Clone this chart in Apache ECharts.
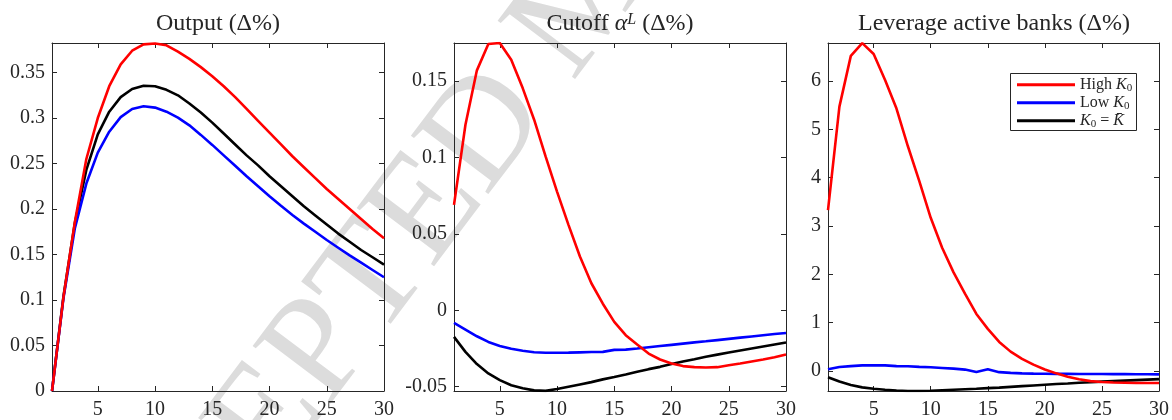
<!DOCTYPE html>
<html>
<head>
<meta charset="utf-8">
<script src="https://cdn.jsdelivr.net/npm/echarts@6/dist/echarts.min.js"></script>
<style>
    html, body {margin: 0; padding: 0; background: #fff;}
    #chart {width: 1172px; height: 420px;}
</style>
</head>
<body>
<div id="chart"></div>
<script>
const periods = [1, 2, 3, 4, 5, 6, 7, 8, 9, 10, 11, 12, 13, 14, 15,
    16, 17, 18, 19, 20, 21, 22, 23, 24, 25, 26, 27, 28, 29, 30];
const periodTicks = [5, 10, 15, 20, 25, 30];

// Output
const outputHigh = [0, 0.103, 0.186, 0.255, 0.300, 0.335, 0.359, 0.374, 0.381, 0.382,
    0.380, 0.373, 0.365, 0.356, 0.346, 0.335, 0.323, 0.310, 0.297, 0.284,
    0.271, 0.258, 0.246, 0.234, 0.222, 0.211, 0.200, 0.189, 0.178, 0.168];
const outputLow = [0, 0.102, 0.179, 0.228, 0.262, 0.285, 0.301, 0.310, 0.313, 0.3115,
    0.307, 0.3005, 0.292, 0.2815, 0.2705, 0.259, 0.2475, 0.236, 0.225, 0.214,
    0.2035, 0.1935, 0.184, 0.175, 0.166, 0.1575, 0.149, 0.141, 0.133, 0.125];
const outputBar = [0, 0.104, 0.185, 0.243, 0.282, 0.307, 0.323, 0.332, 0.3355, 0.335,
    0.331, 0.325, 0.316, 0.306, 0.295, 0.283, 0.271, 0.259, 0.248, 0.236,
    0.225, 0.214, 0.203, 0.193, 0.183, 0.173, 0.164, 0.155, 0.147, 0.139];
const outputTicks = [0, 0.05, 0.1, 0.15, 0.2, 0.25, 0.3, 0.35];

// Cutoff alpha^L
const cutoffHigh = [0.069, 0.1214, 0.157, 0.1742, 0.1749, 0.164, 0.1454, 0.1247, 0.1007, 0.0777,
    0.0559, 0.0352, 0.0177, 0.0043, -0.0076, -0.0163, -0.0224, -0.0283, -0.0322, -0.0348,
    -0.0365, -0.0372, -0.0374, -0.0372, -0.0359, -0.0348, -0.0335, -0.0322, -0.0307, -0.0289];
const cutoffLow = [-0.0083, -0.0126, -0.017, -0.0207, -0.0233, -0.0252, -0.0265, -0.0274, -0.0278, -0.0278,
    -0.0277, -0.0275, -0.0273, -0.0272, -0.0259, -0.0257, -0.025, -0.0242, -0.0234, -0.0226,
    -0.0218, -0.021, -0.0203, -0.0195, -0.0187, -0.0179, -0.0171, -0.0163, -0.0155, -0.0148];
const cutoffBar = [-0.0174, -0.0272, -0.0352, -0.0413, -0.0457, -0.049, -0.051, -0.0524, -0.0527, -0.0515,
    -0.05, -0.0485, -0.047, -0.0452, -0.0437, -0.042, -0.0402, -0.0385, -0.037, -0.0352,
    -0.0335, -0.032, -0.0304, -0.029, -0.0276, -0.0263, -0.025, -0.0237, -0.0224, -0.0211];
const cutoffTicks = [-0.05, 0, 0.05, 0.1, 0.15];

// Leverage active banks
const leverageHigh = [3.33, 5.47, 6.52, 6.785, 6.56, 6.02, 5.43, 4.65, 3.93, 3.17,
    2.55, 2.04, 1.6, 1.18, 0.87, 0.6, 0.4, 0.25, 0.13, 0.03,
    -0.05, -0.12, -0.17, -0.21, -0.23, -0.24, -0.245, -0.25, -0.25, -0.25];
const leverageLow = [0.034, 0.083, 0.10, 0.115, 0.117, 0.115, 0.10, 0.097, 0.085, 0.075,
    0.062, 0.048, 0.028, -0.02, 0.034, -0.025, -0.04, -0.05, -0.055, -0.058,
    -0.06, -0.061, -0.062, -0.063, -0.064, -0.065, -0.066, -0.067, -0.068, -0.07];
const leverageBar = [-0.13, -0.22, -0.29, -0.34, -0.37, -0.39, -0.405, -0.415, -0.415, -0.41,
    -0.40, -0.39, -0.38, -0.37, -0.355, -0.345, -0.33, -0.315, -0.30, -0.285,
    -0.27, -0.26, -0.245, -0.235, -0.22, -0.21, -0.20, -0.19, -0.18, -0.17];
const leverageTicks = [0, 1, 2, 3, 4, 5, 6];

const seriesNames = ['High K0', 'Low K0', 'K0 = Kbar'];
const seriesColors = ['#ff0000', '#0000ff', '#000000'];

const AXIS = '#262626';
const FONT = '"Liberation Serif", "Times New Roman", serif';

const panels = [
    {left: 52, yMin: 0, yMax: 0.3825, ticks: outputTicks, lines: [outputHigh, outputLow, outputBar]},
    {left: 454, yMin: -0.0528, yMax: 0.1749, ticks: cutoffTicks, lines: [cutoffHigh, cutoffLow, cutoffBar]},
    {left: 828, yMin: -0.415, yMax: 6.787, ticks: leverageTicks, lines: [leverageHigh, leverageLow, leverageBar]},
];

function pairs(vals) {
    return periods.map((p, i) => [p, vals[i]]);
}

const chart = echarts.init(document.getElementById('chart'));

const grid = [];
const xAxis = [];
const yAxis = [];
const series = [];

panels.forEach((p, g) => {
    grid.push({left: p.left, top: 43, width: 332, height: 348});
    ['bottom', 'top'].forEach((pos) => {
        xAxis.push({
            gridIndex: g,
            type: 'value',
            position: pos,
            min: 1,
            max: 30,
            axisLine: {show: true, onZero: false, lineStyle: {color: AXIS, width: 1}},
            axisTick: {show: true, inside: true, length: 5, customValues: periodTicks,
                lineStyle: {color: AXIS, width: 1}},
            axisLabel: {show: pos === 'bottom', customValues: periodTicks, color: AXIS,
                fontFamily: FONT, fontSize: 20, margin: 9},
            splitLine: {show: false},
        });
    });
    ['left', 'right'].forEach((pos) => {
        yAxis.push({
            gridIndex: g,
            type: 'value',
            position: pos,
            min: p.yMin,
            max: p.yMax,
            axisLine: {show: true, onZero: false, lineStyle: {color: AXIS, width: 1}},
            axisTick: {show: true, inside: true, length: 5, customValues: p.ticks,
                lineStyle: {color: AXIS, width: 1}},
            axisLabel: {show: pos === 'left', customValues: p.ticks, color: AXIS,
                fontFamily: FONT, fontSize: 20, margin: 7,
                formatter: (v) => String(+v.toFixed(3))},
            splitLine: {show: false},
        });
    });
    p.lines.forEach((vals, k) => {
        series.push({
            name: seriesNames[k],
            type: 'line',
            xAxisIndex: g * 2,
            yAxisIndex: g * 2,
            data: pairs(vals),
            symbol: 'none',
            z: 5 - k,
            lineStyle: {color: seriesColors[k], width: 2.6},
            itemStyle: {color: seriesColors[k]},
            animation: false,
        });
    });
});

const titleRich = {
    r: {fontFamily: FONT, fontSize: 24, fontWeight: 'normal', color: AXIS},
    i: {fontFamily: FONT, fontSize: 24, fontWeight: 'normal', fontStyle: 'italic', color: AXIS},
    s: {fontFamily: FONT, fontSize: 16, fontWeight: 'normal', fontStyle: 'italic', color: AXIS,
        verticalAlign: 'top'},
};

const legendLabels = {
    'High K0': '{n|High }{k|K}{s|0}',
    'Low K0': '{n|Low }{k|K}{s|0}',
    'K0 = Kbar': '{k|K}{s|0}{n| = }{k|K\u0304}',
};

chart.setOption({
    backgroundColor: '#fff',
    animation: false,
    title: [
        {text: '{r|Output (Δ%)}', left: 218, top: 12, textAlign: 'center', padding: 0,
            textStyle: {fontWeight: 'normal', rich: titleRich}},
        {text: '{r|Cutoff }{i|α}{s|L}{r| (Δ%)}', left: 620, top: 12, textAlign: 'center', padding: 0,
            textStyle: {fontWeight: 'normal', rich: titleRich}},
        {text: '{r|Leverage active banks (Δ%)}', left: 994, top: 12, textAlign: 'center', padding: 0,
            textStyle: {fontWeight: 'normal', rich: titleRich}},
    ],
    legend: {
        left: 1010,
        top: 74,
        z: 20,
        orient: 'vertical',
        icon: 'rect',
        itemWidth: 58,
        itemHeight: 3,
        itemGap: 0.5,
        padding: [2, 6, 2, 7],
        selectedMode: false,
        data: seriesNames,
        formatter: (name) => legendLabels[name],
        textStyle: {
            fontFamily: FONT,
            fontSize: 16,
            color: AXIS,
            lineHeight: 17.5,
            rich: {
                n: {fontFamily: FONT, fontSize: 16, color: AXIS, lineHeight: 17.5},
                k: {fontFamily: FONT, fontSize: 16, fontStyle: 'italic', color: AXIS, lineHeight: 17.5},
                s: {fontFamily: FONT, fontSize: 11, color: AXIS, verticalAlign: 'bottom', lineHeight: 17.5},
            },
        },
    },
    graphic: [
        {
            type: 'text',
            x: 118,
            y: 744,
            rotation: 53 * Math.PI / 180,
            z: -10,
            silent: true,
            style: {
                text: 'ACCEPTED MANUSCRIPT',
                fontFamily: FONT,
                fontSize: 148,
                fill: '#dcdcdc',
                textAlign: 'left',
                textVerticalAlign: 'bottom',
            },
        },
        {
            type: 'rect',
            z: 1,
            silent: true,
            shape: {x: 1010.5, y: 73.5, width: 126, height: 57},
            style: {fill: '#fff', stroke: AXIS, lineWidth: 1},
        },
    ],
    grid: grid,
    xAxis: xAxis,
    yAxis: yAxis,
    series: series,
});
</script>
</body>
</html>
